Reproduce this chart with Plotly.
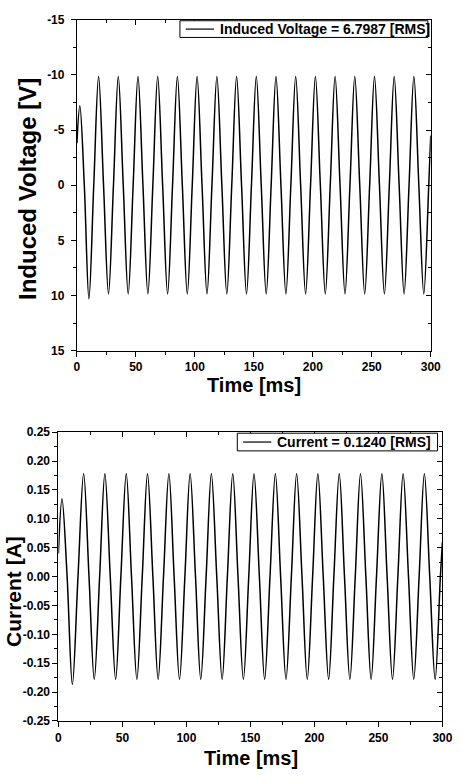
import plotly.graph_objects as go

# ---------------- data ----------------
# Induced voltage: key points (extrema and zero crossings) of the waveform
v_time = [0, 2.5, 6.3, 10.2, 14.3,
          18.4, 22.6, 26.8, 31.0,
          35.1, 39.3, 43.5, 47.7,
          51.8, 56.0, 60.2, 64.4,
          68.5, 72.7, 76.9, 81.1,
          85.2, 89.4, 93.6, 97.8,
          101.9, 106.1, 110.3, 114.5,
          118.7, 122.9, 127.1, 131.3,
          135.4, 139.6, 143.8, 148.0,
          152.1, 156.3, 160.5, 164.7,
          168.8, 173.0, 177.2, 181.4,
          185.5, 189.7, 193.9, 198.1,
          202.2, 206.4, 210.6, 214.8,
          218.9, 223.1, 227.3, 231.5,
          235.6, 239.8, 244.0, 248.2,
          252.3, 256.5, 260.7, 264.9,
          269.0, 273.2, 277.4, 281.6,
          285.7, 289.9, 294.1, 298.3,
          300]
v_vals = [-3.8, -7.2, 0, 10.3, 0,
          -9.85, 0, 9.85, 0,
          -9.85, 0, 9.85, 0,
          -9.85, 0, 9.85, 0,
          -9.85, 0, 9.85, 0,
          -9.85, 0, 9.85, 0,
          -9.85, 0, 9.85, 0,
          -9.85, 0, 9.85, 0,
          -9.85, 0, 9.85, 0,
          -9.85, 0, 9.85, 0,
          -9.85, 0, 9.85, 0,
          -9.85, 0, 9.85, 0,
          -9.85, 0, 9.85, 0,
          -9.85, 0, 9.85, 0,
          -9.85, 0, 9.85, 0,
          -9.85, 0, 9.85, 0,
          -9.85, 0, 9.85, 0,
          -9.85, 0, 9.85, 0,
          -4.5]

# Current: key points (extrema and zero crossings) of the waveform
i_time = [0, 2.8, 6.8, 10.9, 15.3,
          19.7, 23.9, 28.0, 32.2,
          36.3, 40.5, 44.7, 48.8,
          53.0, 57.1, 61.3, 65.5,
          69.6, 73.8, 77.9, 82.1,
          86.3, 90.4, 94.6, 98.8,
          102.9, 107.1, 111.2, 115.4,
          119.5, 123.7, 127.9, 132.0,
          136.2, 140.3, 144.5, 148.7,
          152.8, 157.0, 161.1, 165.3,
          169.5, 173.6, 177.8, 182.0,
          186.1, 190.3, 194.4, 198.6,
          202.7, 206.9, 211.1, 215.2,
          219.4, 223.5, 227.7, 231.9,
          236.0, 240.2, 244.3, 248.5,
          252.7, 256.8, 261.0, 265.2,
          269.3, 273.5, 277.6, 281.8,
          285.9, 290.1, 294.3, 298.4,
          300]
i_vals = [0.04, 0.135, 0, -0.187, 0,
          0.178, 0, -0.178, 0,
          0.178, 0, -0.178, 0,
          0.178, 0, -0.178, 0,
          0.178, 0, -0.178, 0,
          0.178, 0, -0.178, 0,
          0.178, 0, -0.178, 0,
          0.178, 0, -0.178, 0,
          0.178, 0, -0.178, 0,
          0.178, 0, -0.178, 0,
          0.178, 0, -0.178, 0,
          0.178, 0, -0.178, 0,
          0.178, 0, -0.178, 0,
          0.178, 0, -0.178, 0,
          0.178, 0, -0.178, 0,
          0.178, 0, -0.178, 0,
          0.178, 0, -0.178, 0,
          0.178, 0, -0.178, 0,
          0.06]

v_name = "Induced Voltage = 6.7987 [RMS]"
i_name = "Current = 0.1240 [RMS]"

time_ticks = [0, 50, 100, 150, 200, 250, 300]
time_labels = ["0", "50", "100", "150", "200", "250", "300"]
v_ticks = [-15, -10, -5, 0, 5, 10, 15]
v_labels = ["-15", "-10", "-5", "0", "5", "10", "15"]
i_ticks = [-0.25, -0.20, -0.15, -0.10, -0.05, 0.00, 0.05, 0.10, 0.15, 0.20, 0.25]
i_labels = ["-0.25", "-0.20", "-0.15", "-0.10", "-0.05", "0.00",
            "0.05", "0.10", "0.15", "0.20", "0.25"]

# ---------------- layout helpers ----------------
W, H = 467, 780
FONT = "Liberation Sans, Arial, sans-serif"


def px_x(p):
    return p / W


def px_y(p):
    return 1 - p / H


top_x = [px_x(76), px_x(440)]
top_y = [px_y(350), px_y(13)]
bot_x = [px_x(57), px_x(452)]
bot_y = [px_y(727), px_y(433)]

tickfont = dict(family=FONT, size=12, color="black", weight="bold")

fig = go.Figure()

fig.add_trace(go.Scatter(
    x=v_time, y=v_vals, mode="lines", name=v_name, showlegend=False,
    line=dict(color="black", width=1.5, shape="spline", smoothing=1.0),
    xaxis="x", yaxis="y"))
fig.add_trace(go.Scatter(
    x=i_time, y=i_vals, mode="lines", name=i_name, showlegend=False,
    line=dict(color="black", width=1.5, shape="spline", smoothing=1.0),
    xaxis="x2", yaxis="y2"))
# empty traces so the mirror (inside-tick) axes are drawn
fig.add_trace(go.Scatter(x=[], y=[], xaxis="x3", yaxis="y3", showlegend=False))
fig.add_trace(go.Scatter(x=[], y=[], xaxis="x4", yaxis="y4", showlegend=False))


def main_axis(domain, anchor, rng, tickvals, ticktext, minor_d, standoff):
    return dict(domain=domain, anchor=anchor, range=rng,
                tickmode="array", tickvals=tickvals, ticktext=ticktext,
                ticks="outside", ticklen=5, tickwidth=1, tickcolor="black",
                minor=dict(dtick=minor_d, ticks="outside", ticklen=3,
                           tickwidth=1, tickcolor="black", showgrid=False),
                showline=True, linecolor="black", linewidth=1,
                showgrid=False, zeroline=False, tickfont=tickfont,
                ticklabelstandoff=standoff)


def mirror_axis(over, anchor, side, rng, tickvals, minor_d):
    return dict(overlaying=over, anchor=anchor, side=side, range=rng,
                tickmode="array", tickvals=tickvals, showticklabels=False,
                ticks="inside", ticklen=5, tickwidth=1, tickcolor="black",
                minor=dict(dtick=minor_d, ticks="inside", ticklen=3,
                           tickwidth=1, tickcolor="black", showgrid=False),
                showline=True, linecolor="black", linewidth=1,
                showgrid=False, zeroline=False)


fig.update_layout(
    width=W, height=H,
    margin=dict(l=0, r=0, t=0, b=0),
    paper_bgcolor="white", plot_bgcolor="white",
    font=dict(family=FONT, color="black"),
    showlegend=False,
    xaxis=main_axis(top_x, "y", [0, 300], time_ticks, time_labels, 25, 0),
    yaxis=main_axis(top_y, "x", [15, -15], v_ticks, v_labels, 2.5, 4),
    xaxis2=main_axis(bot_x, "y2", [0, 300], time_ticks, time_labels, 25, 1),
    yaxis2=main_axis(bot_y, "x2", [-0.25, 0.25], i_ticks, i_labels, 0.025, 0),
    xaxis3=mirror_axis("x", "y", "top", [0, 300], time_ticks, 25),
    yaxis3=mirror_axis("y", "x", "right", [15, -15], v_ticks, 2.5),
    xaxis4=mirror_axis("x2", "y2", "top", [0, 300], time_ticks, 25),
    yaxis4=mirror_axis("y2", "x2", "right", [-0.25, 0.25], i_ticks, 0.025),
)

# legend boxes (box, line sample, label)
legend_font = dict(family=FONT, size=14, color="black", weight="bold")
for (bx0, bx1, by0, by1, name) in [(182, 437, 14, 31, v_name),
                                    (241, 447, 434, 452, i_name)]:
    ym = (by0 + by1) / 2
    fig.add_shape(type="rect", xref="paper", yref="paper",
                  x0=px_x(bx0), x1=px_x(bx1), y0=px_y(by1), y1=px_y(by0),
                  line=dict(color="black", width=1), fillcolor="white")
    fig.add_shape(type="line", xref="paper", yref="paper",
                  x0=px_x(bx0 + 6), x1=px_x(bx0 + 35), y0=px_y(ym), y1=px_y(ym),
                  line=dict(color="black", width=1.2))
    fig.add_annotation(text=name, x=px_x(bx0 + 39), y=px_y(ym),
                       xref="paper", yref="paper", showarrow=False,
                       xanchor="left", yanchor="middle", font=legend_font)

title_font_x = dict(family=FONT, size=20, color="black", weight="bold")
title_font_y = dict(family=FONT, size=24, color="black", weight="bold")
fig.add_annotation(text="Time [ms]", x=px_x(258), y=px_y(385),
                   xref="paper", yref="paper", showarrow=False,
                   xanchor="center", yanchor="middle", font=title_font_x)
fig.add_annotation(text="Time [ms]", x=px_x(255), y=px_y(765),
                   xref="paper", yref="paper", showarrow=False,
                   xanchor="center", yanchor="middle", font=title_font_x)
fig.add_annotation(text="Induced Voltage [V]", x=px_x(25), y=px_y(185),
                   xref="paper", yref="paper", showarrow=False, textangle=-90,
                   xanchor="center", yanchor="middle", font=title_font_y)
fig.add_annotation(text="Current [A]", x=px_x(11), y=px_y(595),
                   xref="paper", yref="paper", showarrow=False, textangle=-90,
                   xanchor="center", yanchor="middle",
                   font=dict(family=FONT, size=21, color="black", weight="bold"))

fig.write_html("out.html", config={"displayModeBar": False},
               post_script="document.body.style.margin='0';")
